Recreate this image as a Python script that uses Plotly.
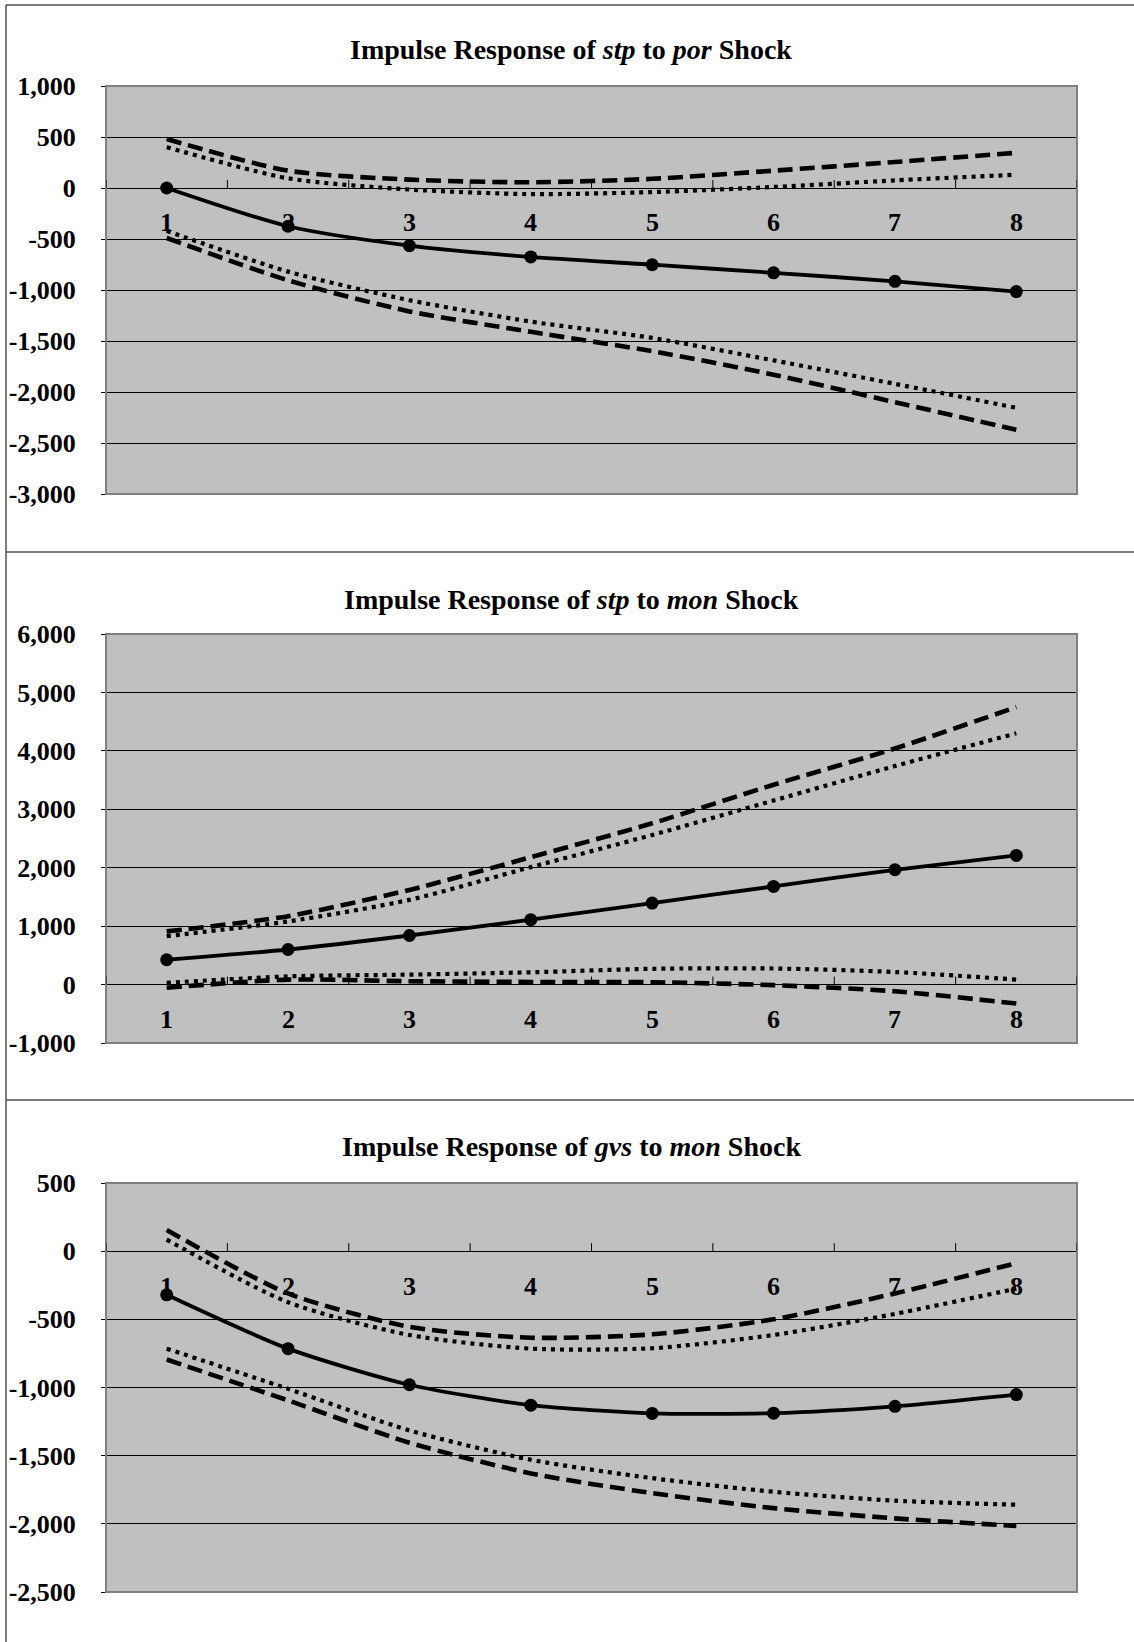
import plotly.graph_objects as go

# ---------------- data ----------------
periods = [1, 2, 3, 4, 5, 6, 7, 8]
period_labels = ["1", "2", "3", "4", "5", "6", "7", "8"]

titles = [
    "<b>Impulse Response of <i>stp</i> to <i>por</i> Shock</b>",
    "<b>Impulse Response of <i>stp</i> to <i>mon</i> Shock</b>",
    "<b>Impulse Response of <i>gvs</i> to <i>mon</i> Shock</b>",
]

# Panel 1: stp to por
p1_irf = [0, -375, -565, -676, -752, -832, -915, -1015]
p1_up_dash = [480, 170, 82, 56, 90, 170, 255, 345]
p1_up_dot = [400, 95, -15, -60, -40, 10, 75, 130]
p1_lo_dot = [-420, -820, -1100, -1310, -1470, -1690, -1920, -2155]
p1_lo_dash = [-490, -905, -1210, -1410, -1600, -1830, -2100, -2370]

# Panel 2: stp to mon
p2_irf = [425, 600, 840, 1110, 1395, 1680, 1965, 2210]
p2_up_dash = [910, 1170, 1620, 2180, 2760, 3420, 4040, 4750]
p2_up_dot = [830, 1080, 1450, 2010, 2560, 3150, 3740, 4300]
p2_lo_dot = [30, 140, 170, 210, 270, 275, 215, 85]
p2_lo_dash = [-55, 85, 57, 45, 40, -10, -115, -325]

# Panel 3: gvs to mon
p3_irf = [-320, -715, -980, -1130, -1190, -1188, -1138, -1052]
p3_up_dash = [155, -310, -555, -635, -610, -500, -310, -88]
p3_up_dot = [85, -375, -615, -715, -712, -615, -460, -275]
p3_lo_dot = [-715, -1010, -1315, -1530, -1665, -1765, -1830, -1860]
p3_lo_dash = [-795, -1095, -1405, -1630, -1775, -1885, -1960, -2015]

# y tick values / labels
p1_yvals = [1000, 500, 0, -500, -1000, -1500, -2000, -2500, -3000]
p1_ylabels = ["1,000", "500", "0", "-500", "-1,000", "-1,500", "-2,000", "-2,500", "-3,000"]
p2_yvals = [6000, 5000, 4000, 3000, 2000, 1000, 0, -1000]
p2_ylabels = ["6,000", "5,000", "4,000", "3,000", "2,000", "1,000", "0", "-1,000"]
p3_yvals = [500, 0, -500, -1000, -1500, -2000, -2500]
p3_ylabels = ["500", "0", "-500", "-1,000", "-1,500", "-2,000", "-2,500"]

# ---------------- layout geometry ----------------
W, H = 1134, 1642
FONT = "Liberation Serif"


def fy(px):
    return 1 - px / H


x_dom = [106 / W, 1077 / W]
panel_px = [(86, 494), (634, 1043), (1183, 1592)]
title_px = [50, 599, 1146]

panels = [
    (p1_irf, p1_up_dash, p1_up_dot, p1_lo_dot, p1_lo_dash, p1_yvals, p1_ylabels),
    (p2_irf, p2_up_dash, p2_up_dot, p2_lo_dot, p2_lo_dash, p2_yvals, p2_ylabels),
    (p3_irf, p3_up_dash, p3_up_dot, p3_lo_dot, p3_lo_dash, p3_yvals, p3_ylabels),
]

fig = go.Figure()
shapes = []
annotations = []
layout_axes = {}

DASH = "15px,7px"
DOT = "4px,5px"
SMOOTH = 0.7

for i, (irf, upd, upo, loo, lod, yv, yl) in enumerate(panels):
    n = "" if i == 0 else str(i + 1)
    xa, ya = "x" + n, "y" + n
    top, bot = panel_px[i]

    for series, dash, w in [(upd, DASH, 4.6), (lod, DASH, 4.6), (upo, DOT, 4.2), (loo, DOT, 4.2)]:
        fig.add_trace(go.Scatter(
            x=periods, y=series, xaxis=xa, yaxis=ya, mode="lines",
            line=dict(color="black", width=w, dash=dash, shape="spline", smoothing=SMOOTH),
            showlegend=False, hoverinfo="skip"))
    fig.add_trace(go.Scatter(
        x=periods, y=irf, xaxis=xa, yaxis=ya, mode="lines+markers",
        line=dict(color="black", width=3.8, shape="spline", smoothing=SMOOTH),
        marker=dict(color="black", size=13, symbol="circle"),
        showlegend=False, hoverinfo="skip"))

    layout_axes["xaxis" + n] = dict(
        domain=x_dom, range=[0.5, 8.5], anchor=ya,
        showgrid=False, zeroline=False, showticklabels=False, ticks="", showline=False,
        fixedrange=True)
    layout_axes["yaxis" + n] = dict(
        domain=[fy(bot), fy(top)], range=[min(yv), max(yv)], anchor=xa,
        tickvals=yv, ticktext=yl, ticks="outside", ticklen=4, tickcolor="black",
        tickwidth=1, showgrid=True, gridcolor="black", gridwidth=1,
        zeroline=True, zerolinecolor="black", zerolinewidth=1,
        showline=False, ticklabelstandoff=20, automargin=False,
        tickfont=dict(family=FONT, size=26, color="black", weight="bold"),
        fixedrange=True)

    # plot-area border
    shapes.append(dict(type="rect", xref=xa + " domain", yref=ya + " domain",
                       x0=0, x1=1, y0=0, y1=1, line=dict(color="#808080", width=2),
                       layer="above"))
    # category tick marks on the zero line
    bounds = [periods[0] - 0.5] + [p + 0.5 for p in periods]
    for b in bounds:
        shapes.append(dict(type="line", xref=xa, yref=ya, ysizemode="pixel",
                           yanchor=0, x0=b, x1=b, y0=0, y1=8,
                           line=dict(color="black", width=1)))
    # category labels next to the zero line
    for p, lab in zip(periods, period_labels):
        annotations.append(dict(x=p, y=0, xref=xa, yref=ya, text="<b>%s</b>" % lab,
                                showarrow=False, yshift=-35, yanchor="middle",
                                font=dict(family=FONT, size=26, color="black")))
    # panel title
    annotations.append(dict(x=571 / W, y=fy(title_px[i]), xref="paper", yref="paper",
                            text=titles[i], showarrow=False, xanchor="center",
                            yanchor="middle",
                            font=dict(family=FONT, size=28, color="black")))

# outer frame lines
frame_col = "#505050"
shapes.append(dict(type="line", xref="paper", yref="paper", x0=6 / W, x1=6 / W,
                   y0=fy(5), y1=0, line=dict(color=frame_col, width=1.5)))
for ypx in [5, 552, 1100]:
    shapes.append(dict(type="line", xref="paper", yref="paper", x0=6 / W, x1=1,
                       y0=fy(ypx), y1=fy(ypx), line=dict(color=frame_col, width=1.5)))

fig.update_layout(
    width=W, height=H, margin=dict(l=0, r=0, t=0, b=0, pad=0, autoexpand=False),
    paper_bgcolor="white", plot_bgcolor="#C0C0C0",
    font=dict(family=FONT, color="black"),
    shapes=shapes, annotations=annotations, showlegend=False,
    **layout_axes)

fig.write_html(
    "out.html",
    config={"displayModeBar": False},
    post_script="document.body.style.margin='0';document.body.style.overflow='hidden';",
)
